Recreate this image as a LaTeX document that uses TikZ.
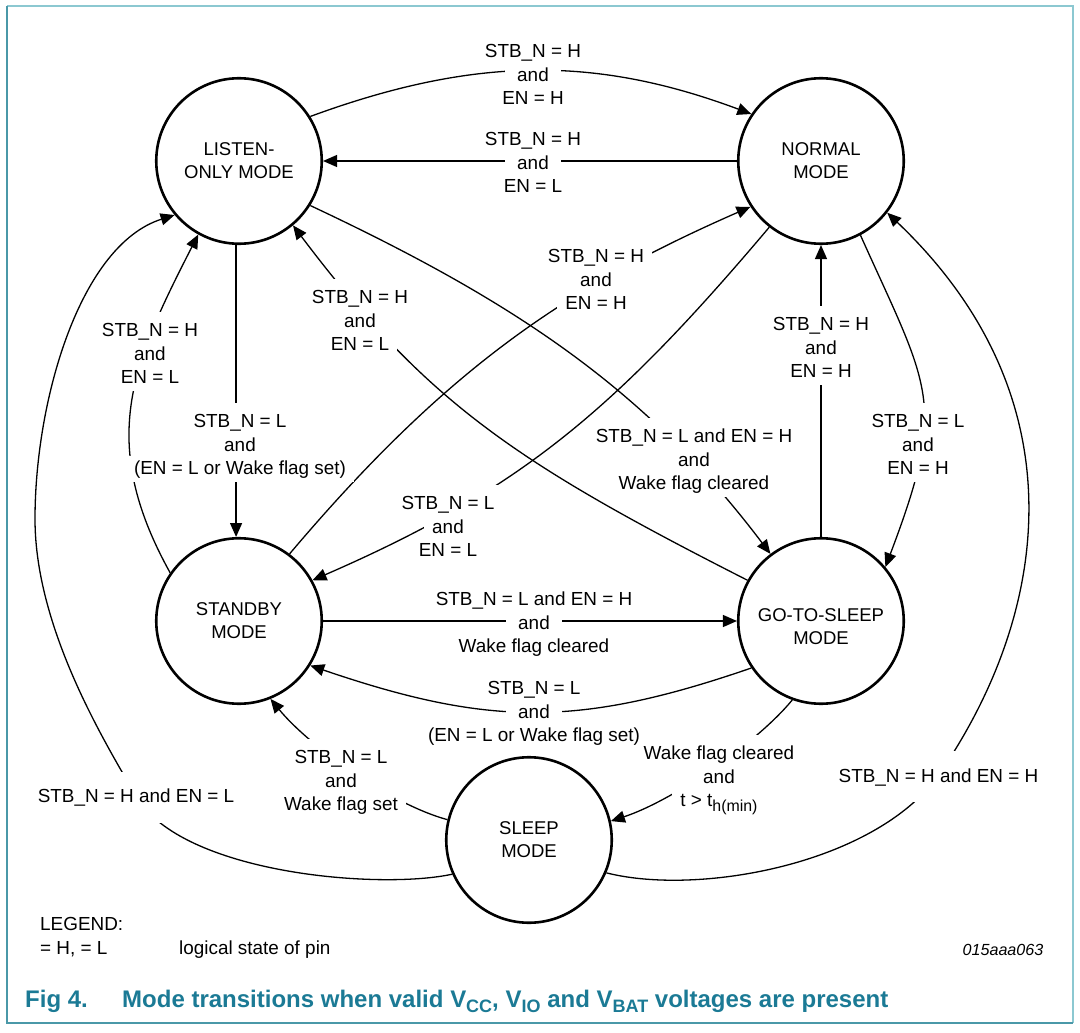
\documentclass[tikz,border=0pt]{standalone}
\usepackage{fontspec}
\setmainfont{Liberation Sans}
\usetikzlibrary{arrows.meta}
\definecolor{capc}{HTML}{1B7A95}
\definecolor{frlight}{HTML}{8CC8D1}
\definecolor{frdark}{HTML}{4A98A8}
\setlength{\fboxsep}{0pt}
\newcommand\lblfont{\fontsize{18.9pt}{23.2pt}\selectfont}
\newcommand\modefont{\fontsize{18.5pt}{23pt}\selectfont}
\newcommand\rowb[4]{\smash{\colorbox{white}{\hspace{#1}\rule[-#2]{0pt}{#3}#4\hspace{#1}}}}
\newcommand\wf[1]{\rowb{8pt}{8pt}{33pt}{#1}}
\newcommand\wl[1]{\rowb{8pt}{8pt}{26pt}{#1}}
\newcommand\wn[1]{\rowb{3pt}{8pt}{26pt}{#1}}
\newcommand\wa[1]{\rowb{12pt}{8pt}{26pt}{#1}}
\newcommand\ws[1]{\rowb{8pt}{20pt}{51pt}{#1}}
\newcommand\capsub[1]{\raisebox{-4.5pt}{\fontsize{18pt}{20pt}\selectfont #1}}
\tikzset{
  mode/.style={circle, draw, line width=2.6pt, minimum size=165.5pt, inner sep=0pt, align=center, font=\modefont},
  conn/.style={line width=1.3pt},
  arr/.style={conn, -{Triangle[length=14pt,width=12pt]}},
  lbl/.style={align=center, inner sep=0pt, font=\lblfont},
  plain/.style={inner sep=0pt, font=\lblfont},
}
\begin{document}
\begin{tikzpicture}[x=1pt,y=-1pt]
\useasboundingbox (0,0) rectangle (1080,1033);
% frame
\draw[frlight, line width=1.5pt] (7,6) -- (1073,6) -- (1073,1023);
\draw[frdark, line width=1.5pt] (7,6) -- (7,1023) -- (1073,1023);
% modes
\node[mode] (L) at (239,161) {LISTEN-\\ONLY MODE};
\node[mode] (N) at (821,161) {NORMAL\\MODE};
\node[mode] (S) at (239,621) {STANDBY\\MODE};
\node[mode] (G) at (821,621) {\rule{0pt}{25pt}GO-TO-SLEEP\\MODE};
\node[mode] (Z) at (529,840) {SLEEP\\MODE};
% connectors
\draw[arr] (L.32) .. controls (475,56) and (596,56) .. (N.146);
\draw[arr] (N.west) -- (L.east);
\draw[arr] (L.268) -- (S.92);
\draw[arr] (G.north) -- (N.south);
\draw[arr] (S.east) -- (G.west);
\draw[arr] (G.214) .. controls (580,727) and (490,727) .. (S.328);
\draw[arr] (S.53) .. controls (446,369) and (565,288) .. (N.213);
\draw[arr] (N.232) .. controls (614,411) and (520,490) .. (S.29);
\draw[arr] (L.328) .. controls (520,304) and (648,392) .. (G.127);
\draw[arr] (G.151) .. controls (515,462) and (427,403) .. (L.310);
\draw[arr] (S.145) .. controls (97,441) and (132,364) .. (L.241);
\draw[arr] (N.298) .. controls (930,390) and (948,402) .. (G.40);
\draw[arr] (Z.337) .. controls (697,896) and (873,865) .. (938,776)
                   .. controls (1050,614) and (1082,398) .. (N.322);
\draw[arr] (Z.204) .. controls (380,890) and (181,874) .. (136,796)
                   .. controls (106,744) and (35,629) .. (35,519)
                   .. controls (35,400) and (80,245) .. (L.220);
\draw[arr] (Z.166) .. controls (390,804) and (309,746) .. (S.292);
\draw[arr] (G.250) .. controls (756,744) and (672,801) .. (Z.13);
% labels
\node[lbl] (t14) at (719,783) {\wf{Wake flag cleared}\\\wl{\makebox[100pt]{and}}\\\wl{t > t\raisebox{-5pt}{\fontsize{15.9pt}{16pt}\selectfont h(min)}}};
\node[lbl] (t1) at (533,81) {\wf{STB\_N = H}\\\wa{and}\\\wl{EN = H}};
\node[lbl] (t2) at (533,169) {\wf{STB\_N = H}\\\wa{and}\\\wl{EN = L}};
\node[lbl] (t3) at (150,360) {\wf{STB\_N = H}\\\wl{and}\\\wl{EN = L}};
\node[lbl] (t4) at (360,327) {\wf{STB\_N = H}\\\wl{and}\\\wl{EN = L}};
\node[lbl] (t5) at (596,286) {\wf{STB\_N = H}\\\wl{and}\\\wl{EN = H}};
\node[lbl] (t6) at (240,451) {\wf{STB\_N = L}\\\wl{and}\\\wl{(EN = L or Wake flag set)}};
\node[lbl] (t7) at (694,466) {\wf{STB\_N = L and EN = H}\\\wl{and}\\\wl{Wake flag cleared}};
\node[lbl] (t8) at (821,354) {\wf{STB\_N = H}\\\wl{and}\\\wl{EN = H}};
\node[lbl] (t9) at (918,451) {\wf{STB\_N = L}\\\wl{and}\\\wl{EN = H}};
\node[lbl] (t10) at (448,533) {\wf{STB\_N = L}\\\wl{and}\\\wl{EN = L}};
\node[lbl] (t11) at (534,629) {\wf{STB\_N = L and EN = H}\\\wa{and}\\\wl{Wake flag cleared}};
\node[lbl] (t12) at (534,718) {\wf{STB\_N = L}\\\wa{and}\\\wn{(EN = L or Wake flag set)}};
\node[lbl] (t13) at (341,787) {\wf{STB\_N = L}\\\wl{\makebox[92pt]{and}}\\\wl{Wake flag set}};
\node[lbl] (t15) at (136,802.5) {\ws{STB\_N = H and EN = L}};
\node[lbl] (t16) at (938.5,782) {\ws{STB\_N = H and EN = H}};
% legend
\node[plain, anchor=base west] (lg1) at (40,930) {LEGEND:};
\node[plain, anchor=base west] (lg2) at (40,954) {= H, = L};
\node[plain, anchor=base west] (lg3) at (179,954) {logical state of pin};
\node[inner sep=0pt, anchor=base east, font=\fontsize{16.1pt}{18pt}\selectfont\itshape] (fid) at (1043.5,955) {015aaa063};
% caption
\node[inner sep=0pt, anchor=base west, text=capc, font=\fontsize{24pt}{28pt}\selectfont\bfseries] (cap1) at (25,1007.5) {Fig 4.};
\node[inner sep=0pt, anchor=base west, text=capc, font=\fontsize{24pt}{28pt}\selectfont\bfseries] (cap2) at (122,1007.5) {Mode transitions when valid V\capsub{CC}, V\capsub{IO} and V\capsub{BAT} voltages are present};
\end{tikzpicture}
\end{document}
